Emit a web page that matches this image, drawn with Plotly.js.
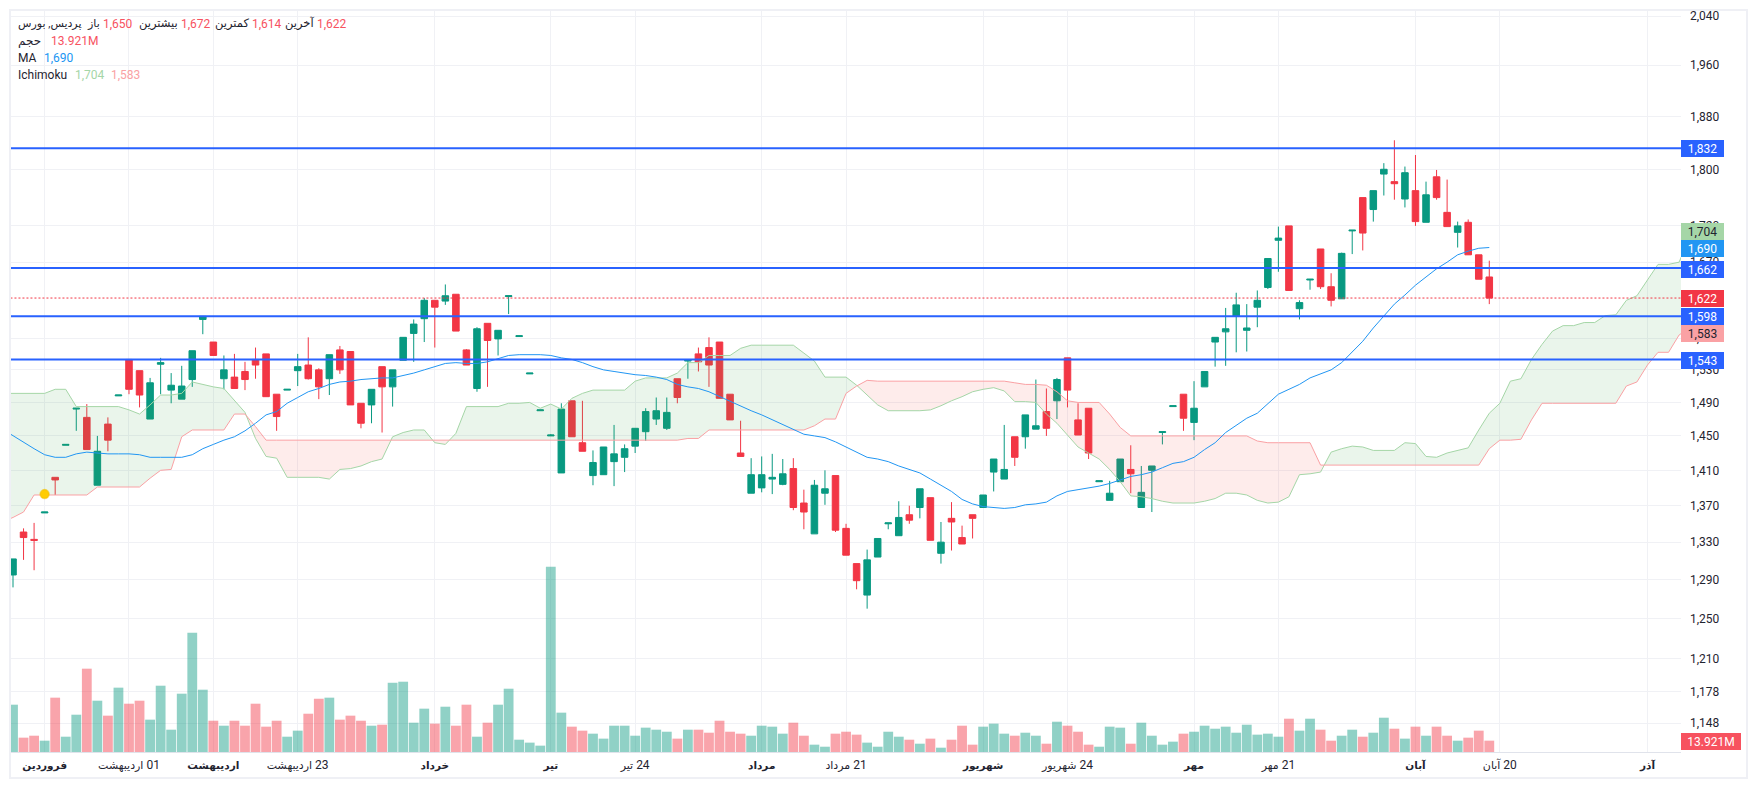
<!DOCTYPE html>
<html><head><meta charset="utf-8">
<script src="https://cdn.plot.ly/plotly-3.0.1.min.js"></script>
<style>html,body{margin:0;padding:0;background:#fff}#c{width:1757px;height:790px}</style>
</head><body><div id="c"></div>
<script>
const opens=[1295,1341,1333,1362,1402,1439,1482,1472,1393,1464,
1498,1543,1529,1470,1537,1505,1494,1518,1594,1565,
1519,1521,1528,1543,1550,1500,1505,1529,1536,1530,
1519,1555,1553,1489,1487,1534,1509,1542,1576,1595,
1619,1618,1627,1555,1507,1589,1569,1624,1572,1525,
1480,1450,1407,1492,1442,1404,1405,1420,1425,1438,
1455,1470,1459,1519,1541,1550,1558,1565,1500,1430,
1384,1390,1400,1394,1412,1373,1339,1384,1404,1345,
1307,1274,1314,1350,1337,1360,1368,1379,1318,1356,
1335,1360,1368,1408,1400,1449,1449,1458,1479,1492,
1545,1469,1483,1397,1376,1397,1411,1368,1410,1454,
1485,1500,1466,1509,1565,1578,1598,1580,1610,1636,
1700,1720,1608,1646,1688,1637,1621,1713,1760,1743,
1794,1783,1758,1770,1725,1790,1739,1711,1725,1680,1650];
const highs=[1312,1345,1351,1363,1402,1440,1483,1488,1450,1472,
1499,1543,1529,1520,1545,1526,1535,1554,1598,1565,
1548,1550,1540,1558,1550,1500,1506,1550,1571,1532,
1549,1560,1553,1489,1506,1534,1530,1571,1594,1622,
1619,1640,1627,1556,1584,1589,1580,1625,1573,1526,
1481,1452,1489,1492,1492,1433,1437,1463,1440,1459,
1483,1496,1496,1519,1542,1558,1571,1565,1500,1468,
1424,1426,1429,1423,1424,1388,1399,1410,1404,1350,
1307,1322,1334,1351,1375,1370,1389,1379,1352,1374,
1348,1360,1382,1423,1463,1449,1475,1518,1507,1520,
1545,1489,1483,1398,1398,1423,1439,1415,1415,1455,
1486,1500,1516,1528,1571,1609,1629,1614,1632,1675,
1719,1720,1619,1647,1688,1655,1683,1714,1760,1770,
1810,1844,1805,1822,1783,1800,1786,1726,1729,1680,1672];
const lows=[1282,1311,1300,1362,1382,1439,1456,1434,1393,1432,
1498,1500,1484,1470,1500,1489,1494,1509,1575,1548,
1506,1507,1505,1519,1497,1456,1505,1510,1518,1494,
1499,1525,1487,1459,1465,1454,1485,1542,1540,1565,
1558,1613,1579,1536,1503,1509,1548,1601,1572,1525,
1480,1450,1407,1449,1432,1393,1405,1392,1408,1430,
1444,1463,1457,1489,1519,1528,1509,1495,1469,1426,
1384,1385,1383,1393,1365,1344,1339,1371,1341,1316,
1280,1260,1314,1344,1337,1350,1356,1332,1307,1321,
1328,1334,1368,1386,1400,1415,1435,1458,1450,1470,
1484,1451,1423,1397,1376,1397,1384,1368,1363,1440,
1485,1456,1445,1509,1534,1535,1552,1553,1584,1634,
1657,1632,1594,1633,1634,1611,1621,1681,1686,1726,
1763,1757,1746,1720,1725,1757,1719,1690,1680,1647,1614];
const closes=[1312,1335,1332,1363,1399,1440,1483,1434,1432,1445,
1499,1506,1499,1514,1539,1511,1510,1554,1598,1548,
1530,1507,1518,1536,1497,1473,1506,1534,1519,1509,
1549,1530,1487,1465,1506,1509,1530,1571,1588,1619,
1610,1625,1579,1536,1582,1567,1580,1625,1573,1526,
1481,1451,1482,1449,1432,1419,1437,1429,1435,1459,
1479,1480,1478,1496,1542,1540,1536,1495,1469,1426,
1405,1405,1402,1406,1368,1363,1393,1389,1343,1316,
1289,1311,1334,1351,1357,1354,1389,1332,1330,1352,
1328,1356,1382,1423,1411,1425,1475,1462,1459,1518,
1505,1451,1430,1398,1384,1423,1406,1385,1415,1455,
1486,1471,1483,1528,1571,1582,1613,1583,1619,1675,
1703,1632,1616,1647,1637,1619,1682,1714,1710,1770,
1801,1780,1796,1726,1764,1760,1719,1720,1680,1647,1622];
const volumes=[58.1,17.6,20,13.9,66.7,18.8,45.8,102.3,63,44.6,
79,59.3,63,39.7,81.4,27.4,71.6,146.4,76.5,38.4,
32.3,38.4,32.3,59.3,31.1,38.4,18.8,26.2,47,65.4,
66.7,39.7,44.6,38.4,32.3,33.5,85,86.3,36,53.2,
34.8,55.6,32.3,58.1,18.8,36,58.1,77.7,15.1,11.5,
7.8,227.4,48.3,31.1,26.2,22.5,16.4,32.3,32.3,20,
29.9,27.4,24.9,16.4,27.4,27.4,23.7,38.4,24.9,22.5,
20,32.3,31.1,22.5,36,20,9,6.5,22.5,24.9,
21.3,11.5,6.5,24.9,18.8,15.1,10.2,16.4,5.3,15.1,
32.3,9,31.1,34.8,22.5,20,23.7,20,10.2,37.2,
32.3,24.9,9,6.5,31.1,29.9,10.2,36,20,9,
12.7,22.5,24.9,32.3,28.6,31.1,23.7,33.5,21.3,22.5,
18.8,40.9,26.2,40.9,27.4,13.9,20,27.4,18.8,23.7,
42.1,28.6,16.4,31.1,20,31.1,20,13.9,17.6,26.2,13.921];
// moving average, first value is the bar before the first visible candle
const maValues=[1458,1450,1443,1435,1428,1425,1425,1429,1431,1430,1429,
1429,1429,1428,1425,1425,1425,1425,1428,1435,1440,
1445,1449,1456,1465,1475,1479,1489,1496,1503,1507,
1512,1515,1516,1518,1519,1520,1520,1523,1526,1530,
1534,1538,1539,1538,1538,1540,1544,1548,1549,1549,
1549,1548,1545,1543,1539,1534,1530,1528,1526,1524,
1523,1521,1518,1512,1509,1507,1503,1497,1491,1486,
1480,1475,1469,1463,1457,1452,1450,1448,1443,1437,
1431,1425,1423,1420,1415,1411,1407,1400,1393,1386,
1377,1372,1369,1368,1367,1368,1371,1372,1374,1381,
1386,1388,1390,1392,1395,1399,1403,1405,1408,1413,
1418,1420,1425,1434,1442,1454,1463,1471,1477,1489,
1500,1506,1512,1520,1525,1530,1539,1552,1566,1583,
1598,1614,1626,1639,1650,1661,1670,1680,1685,1689,1690];
// Ichimoku spans, first value is one bar before the first candle; they run into the future
const senkouA=[1501,1501,1501,1501,1501,1506,1506,1485,1485,1485,1485,
1485,1481,1476,1487,1499,1499,1501,1515,1512,1509,
1507,1492,1478,1447,1426,1424,1402,1402,1402,1402,
1400,1411,1412,1415,1420,1423,1449,1454,1457,1457,
1442,1440,1453,1485,1485,1485,1485,1489,1489,1490,
1483,1488,1482,1495,1501,1505,1505,1505,1505,1516,
1520,1520,1520,1526,1539,1539,1548,1548,1548,1557,
1561,1561,1561,1561,1561,1551,1541,1521,1521,1521,
1511,1499,1487,1480,1480,1480,1480,1481,1486,1492,
1497,1503,1506,1508,1504,1491,1491,1490,1476,1465,
1451,1437,1430,1423,1411,1397,1381,1380,1378,1375,
1373,1373,1373,1375,1378,1384,1384,1382,1376,1373,
1374,1380,1405,1406,1408,1431,1435,1438,1437,1433,
1433,1433,1442,1441,1426,1425,1430,1433,1436,1457,
1477,1489,1516,1519,1543,1562,1579,1586,1586,1590,
1590,1599,1600,1619,1625,1646,1667,1667,1670,1704];
const senkouB=[1352,1357,1363,1382,1382,1382,1382,1382,1382,1391,1391,
1391,1391,1391,1401,1410,1411,1449,1457,1457,1457,
1457,1476,1476,1461,1445,1445,1445,1445,1445,1445,
1445,1445,1445,1445,1445,1445,1445,1445,1445,1445,
1445,1445,1445,1445,1445,1445,1445,1445,1445,1445,
1445,1445,1445,1445,1445,1445,1445,1445,1445,1445,
1445,1445,1445,1445,1447,1447,1457,1457,1457,1457,
1457,1457,1457,1457,1457,1457,1462,1470,1470,1501,
1510,1517,1516,1516,1516,1516,1516,1516,1516,1516,
1516,1516,1516,1516,1516,1514,1512,1512,1511,1503,
1492,1490,1490,1490,1476,1460,1450,1450,1450,1450,
1450,1450,1450,1450,1450,1450,1450,1450,1444,1442,
1442,1442,1442,1442,1416,1416,1416,1416,1416,1416,
1416,1416,1416,1416,1416,1416,1416,1416,1416,1416,
1435,1445,1445,1446,1469,1489,1489,1489,1489,1489,
1489,1489,1489,1510,1515,1536,1552,1552,1574,1583];
const levels=[1832,1662,1598,1543];
const lastPrice=[1622];
const signalBar=[3], signalPrice=[1383];
const yTicks=[1148,1178,1210,1250,1290,1330,1370,1410,1450,1490,1530,1570,1670,1720,1800,1880,1960,2040];
const xTicks=[3,11,19,27,40,51,59,71,79,92,100,112,120,133,141,155];
const monthMark=n=>'<span style="font-size:10.5px"><b>'+n+'</b></span>';
const dayMark=(n,d)=>'<span style="font-size:11px">'+n+'</span> \u200E'+d;
const xLabels=[monthMark('فروردین'),dayMark('اردیبهشت','01'),monthMark('اردیبهشت'),dayMark('اردیبهشت','23'),monthMark('خرداد'),monthMark('تیر'),dayMark('تیر','24'),monthMark('مرداد'),dayMark('مرداد','21'),monthMark('شهریور'),dayMark('شهریور','24'),monthMark('مهر'),dayMark('مهر','21'),monthMark('آبان'),dayMark('آبان','20'),monthMark('آذر')];

const FONT="Roboto, 'DejaVu Sans', sans-serif", INK='#1f2430';
const GREEN='#089981', RED='#f23645';
const px=x=>(x-10)/1671, py=y=>(752-y)/742;
const bars=opens.map((_,i)=>i);
const rising=opens.map((o,i)=>closes[i]>=o);
const traces=[];

// cloud fill regions
const cloudX=senkouA.map((_,k)=>k-1);
let seg={x:[],a:[],b:[]};
function flush(up){
  if(seg.x.length<2)return;
  traces.push({type:'scatter',mode:'lines',x:seg.x.concat(seg.x.slice().reverse()),y:seg.a.concat(seg.b.slice().reverse()),
    fill:'toself',fillcolor:up?'rgba(67,160,71,0.11)':'rgba(244,67,54,0.10)',line:{width:0},hoverinfo:'skip',showlegend:false});
}
for(let k=0;k<cloudX.length;k++){
  const d=senkouA[k]-senkouB[k];
  if(k>0){
    const d0=senkouA[k-1]-senkouB[k-1];
    if((d0>=0)!==(d>=0)){
      const t=d0/(d0-d), xc=cloudX[k-1]+t, yc=senkouA[k-1]+t*(senkouA[k]-senkouA[k-1]);
      seg.x.push(xc);seg.a.push(yc);seg.b.push(yc);
      flush(d0>=0);
      seg={x:[xc],a:[yc],b:[yc]};
    }
  }
  seg.x.push(cloudX[k]);seg.a.push(senkouA[k]);seg.b.push(senkouB[k]);
}
flush(senkouA[senkouA.length-1]>=senkouB[senkouB.length-1]);
traces.push({type:'scatter',mode:'lines',x:cloudX,y:senkouA,line:{color:'#a5d6a7',width:1},hoverinfo:'skip',showlegend:false});
traces.push({type:'scatter',mode:'lines',x:cloudX,y:senkouB,line:{color:'#faa1a4',width:1},hoverinfo:'skip',showlegend:false});

traces.push({type:'candlestick',x:bars,open:opens,high:highs,low:lows,close:closes,whiskerwidth:0,
  increasing:{line:{color:GREEN,width:1},fillcolor:GREEN},decreasing:{line:{color:RED,width:1},fillcolor:RED},hoverinfo:'skip',showlegend:false});
traces.push({type:'scatter',mode:'lines',x:cloudX.slice(0,maValues.length),y:maValues,line:{color:'#2196f3',width:1},hoverinfo:'skip',showlegend:false});
traces.push({type:'scatter',mode:'lines',x:[-1,160],y:[lastPrice[0],lastPrice[0]],line:{color:RED,width:1,dash:'2px,2px'},hoverinfo:'skip',showlegend:false});
levels.forEach(v=>traces.push({type:'scatter',mode:'lines',x:[-1,160],y:[v,v],line:{color:'#2962ff',width:2},hoverinfo:'skip',showlegend:false}));
traces.push({type:'scatter',mode:'markers',x:signalBar,y:signalPrice,marker:{size:9,color:'#ffcc00',line:{color:'rgba(240,190,0,0.55)',width:1.5}},hoverinfo:'skip',showlegend:false});
traces.push({type:'bar',x:bars,y:volumes,yaxis:'y2',marker:{color:rising.map(u=>u?'rgba(8,153,129,0.45)':'rgba(242,54,69,0.45)'),line:{width:0}},hoverinfo:'skip',showlegend:false});

// legend text pieces: [text, x, y, colour, anchor, size]
const legend=[
 ['پردیس, بورس',17,24,INK,'left',11],['باز',101,24,INK,'right',11],['1,650',102,24,'#f7525f','left',12],['بیشترین',179,24,INK,'right',11.5],['1,672',180,24,'#f7525f','left',12],
 ['کمترین',250,24,INK,'right',11.5],['1,614',251,24,'#f7525f','left',12],['آخرین',315,24,INK,'right',11.5],['1,622',316,24,'#f7525f','left',12],
 ['حجم',17,41,INK,'left',12],['13.921M',50,41,'#f7525f','left',12],
 ['MA',17,58,INK,'left',12],['1,690',43,58,'#2196f3','left',12],
 ['Ichimoku',17,75,INK,'left',12],['1,704',74,75,'#a5d6a7','left',12],['1,583',110,75,'#faa1a4','left',12]
];
const ann=legend.map(([t,x,y,c,a,s])=>({xref:'paper',yref:'paper',x:px(x),y:py(y),xanchor:a,yanchor:'middle',text:t,showarrow:false,borderpad:0,font:{family:FONT,size:s,color:c}}));
// price tags on the right scale
const tagText=['1,832','1,704','1,690','1,662','1,622','1,598','1,583','1,543','13.921M'];
const tagFill=['#2962ff','#a5d6a7','#2196f3','#2962ff','#f23645','#2962ff','#faa1a4','#2962ff','#f7525f'];
const tagInk=['#fff',INK,'#fff','#fff','#fff','#fff',INK,'#fff','#fff'];
const tagMid=[148.5,231.5,248.5,269.5,298,316,333.5,360,741.5];
tagText.forEach((t,i)=>ann.push({xref:'paper',yref:'paper',x:1,y:py(tagMid[i]),xanchor:'left',yanchor:'middle',text:t,showarrow:false,
  width:i===8?60:43,height:17,align:'center',valign:'middle',bgcolor:tagFill[i],borderpad:0,borderwidth:0,font:{family:FONT,size:12,color:tagInk[i]}}));

const layout={width:1757,height:790,margin:{l:10,r:76,t:10,b:38,pad:0},paper_bgcolor:'#fff',plot_bgcolor:'#fff',
  showlegend:false,boxgap:0,boxgroupgap:0.38,bargap:0.07,font:{family:FONT,size:12,color:INK},
  xaxis:{type:'linear',range:[-0.2845,158.18],tickmode:'array',tickvals:xTicks,ticktext:xLabels,tickangle:0,showgrid:true,gridcolor:'#f0f1f5',gridwidth:1,zeroline:false,
    rangeslider:{visible:false},showline:true,linecolor:'#e0e3eb',linewidth:1,ticks:'',ticklabelstandoff:2,tickfont:{family:FONT,size:12,color:INK}},
  yaxis:{type:'log',range:[Math.log10(1121.4),Math.log10(2050)],side:'right',tickmode:'array',tickvals:yTicks,ticktext:yTicks.map(v=>v.toLocaleString('en-US')),
    showgrid:true,gridcolor:'#f0f1f5',gridwidth:1,zeroline:false,showline:false,ticks:'',ticklabelstandoff:8,tickfont:{family:FONT,size:12,color:INK}},
  yaxis2:{overlaying:'y',side:'right',range:[0,911],visible:false,showgrid:false,zeroline:false},
  annotations:ann,
  shapes:[{type:'rect',xref:'paper',yref:'paper',x0:px(10),x1:px(1747),y0:py(778),y1:py(10),line:{color:'#eff0f5',width:2},fillcolor:'rgba(0,0,0,0)',layer:'above'}]
};
Plotly.newPlot('c',traces,layout,{displayModeBar:false,staticPlot:true});
</script></body></html>
